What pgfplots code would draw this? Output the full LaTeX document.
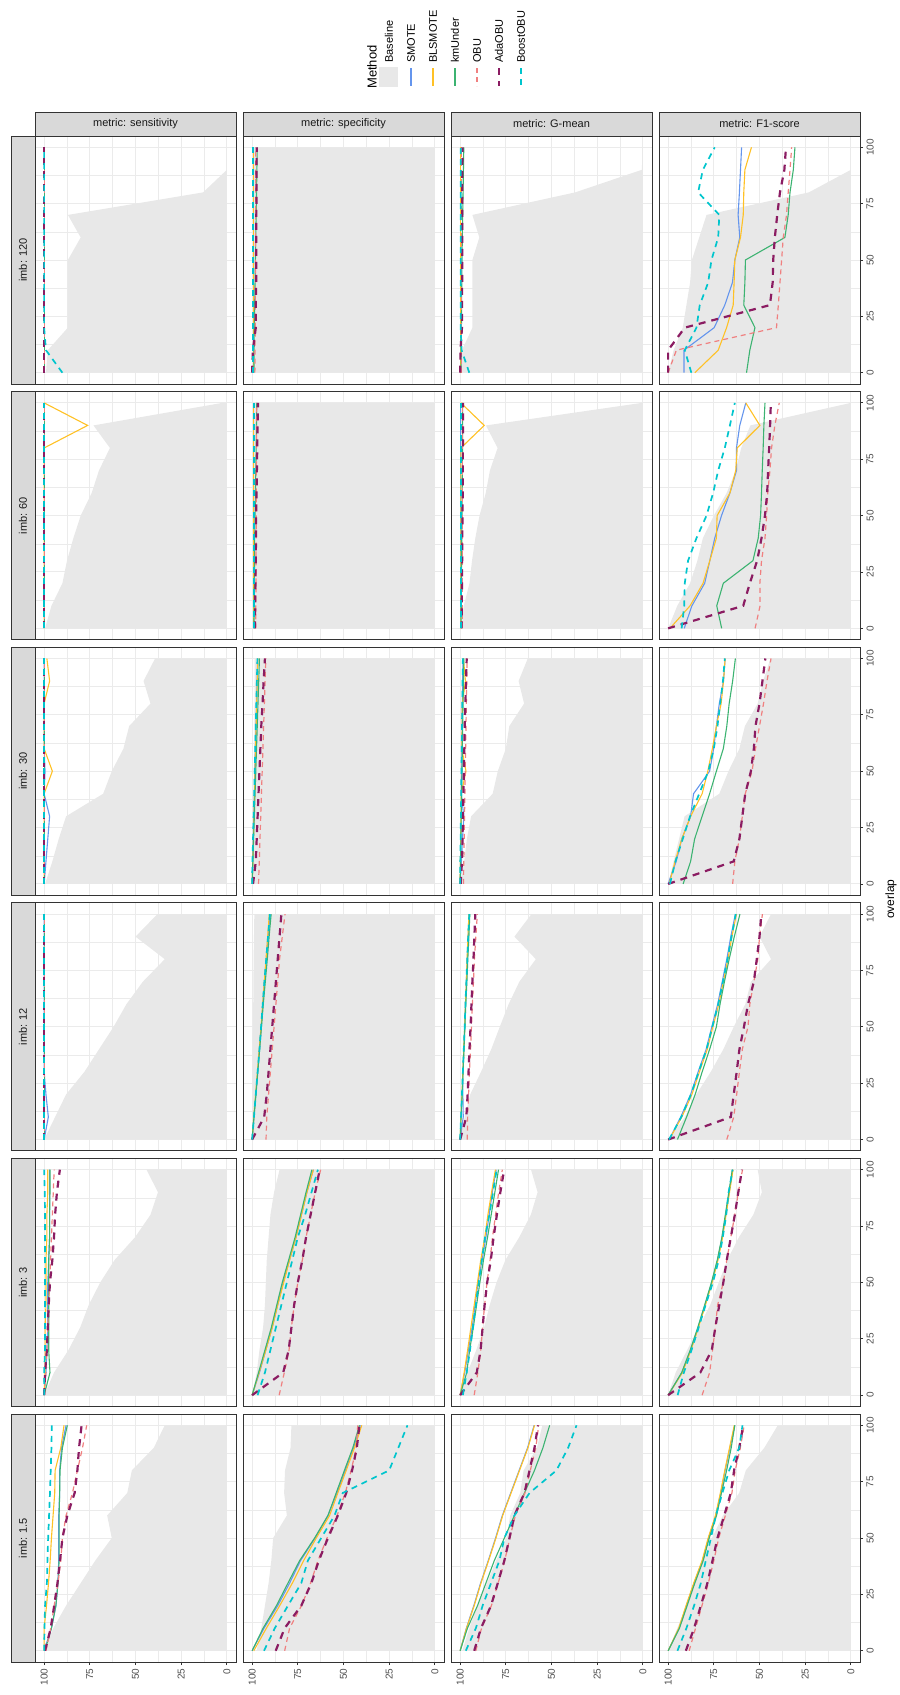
\documentclass[border=0pt]{standalone}
\usepackage{fontspec}
\setmainfont{Liberation Sans}
\usepackage{pgfplots}
\usepackage{pgfplotstable}
\pgfplotsset{compat=1.18}
\usepgfplotslibrary{fillbetween}

\definecolor{cSM}{HTML}{6495ED}
\definecolor{cBL}{HTML}{FFC125}
\definecolor{cKM}{HTML}{3CB371}
\definecolor{cOB}{HTML}{F08080}
\definecolor{cAD}{HTML}{8B1C62}
\definecolor{cBO}{HTML}{00C5CD}
\definecolor{cBase}{HTML}{E8E8E8}
\definecolor{cGrid}{HTML}{EBEBEB}
\definecolor{cStrip}{HTML}{D9D9D9}
\definecolor{cBorder}{HTML}{333333}
\definecolor{cTick}{HTML}{4D4D4D}

\tikzset{
 lSM/.style={cSM, line width=1.1pt},
 lBL/.style={cBL, line width=1.1pt},
 lKM/.style={cKM, line width=1.1pt},
 lOB/.style={cOB, line width=1.2pt, dash pattern=on 5pt off 4pt},
 lAD/.style={cAD, line width=2.2pt, dash pattern=on 7pt off 6pt},
 lBO/.style={cBO, line width=1.7pt, dash pattern=on 6pt off 5pt},
}

\pgfplotsset{
 panel/.style={
  anchor=north west, width=201pt, height=248pt, scale only axis,
  xmin=-5, xmax=105, ymin=-5, ymax=105, x dir=reverse,
  xtick={0,25,50,75,100}, ytick={0,25,50,75,100},
  minor xtick={12.5,37.5,62.5,87.5}, minor ytick={12.5,37.5,62.5,87.5},
  grid=both,
  major grid style={draw=cGrid, line width=1pt},
  minor grid style={draw=cGrid, line width=0.5pt},
  axis line style={draw=cBorder, line width=1pt},
  xticklabels={}, yticklabels={},
  xtick pos=bottom, ytick pos=right,
  tick align=outside, major tick length=3pt, minor tick length=0pt,
  xtick style={draw=none}, ytick style={draw=none},
  no markers,
  /pgf/number format/assume math mode=true,
  tick label style={font=\fontsize{10}{12}\selectfont, text=cTick},
 },
 botrow/.style={xticklabels={0,25,50,75,100}, xtick style={draw=cBorder, line width=0.8pt}, xticklabel style={rotate=90, anchor=east}},
 rightcol/.style={yticklabels={0,25,50,75,100}, ytick style={draw=cBorder, line width=0.8pt}, yticklabel style={rotate=90, anchor=north}},
}

\newcommand{\panel}[4]{%
 \begin{axis}[panel, at={(#2pt,-#3pt)}, #4]
  \addplot[draw=none, name path=zz, forget plot] coordinates {(0,0) (0,100)};
  \addplot[draw=none, name path=bb, forget plot] table[x=b, y=ov]{#1};
  \addplot[fill=cBase, draw=none, forget plot] fill between[of=bb and zz];
  \addplot[lSM] table[x=s, y=ov]{#1};
  \addplot[lBL] table[x=bl, y=ov]{#1};
  \addplot[lKM] table[x=k, y=ov]{#1};
  \addplot[lOB] table[x=o, y=ov]{#1};
  \addplot[lAD] table[x=a, y=ov]{#1};
  \addplot[lBO] table[x=bo, y=ov]{#1};
 \end{axis}}

% ---------------- imb 120 ----------------
\pgfplotstableread{
ov b s bl k o a bo
0 99 100 100 100 100 100 90
10 98 100 100 100 100 100 99
20 87 100 100 100 100 100 100
30 87 100 100 100 100 100 100
40 87 100 100 100 100 100 100
50 87 100 100 100 100 100 100
60 80 100 100 100 100 100 100
70 87 100 100 100 100 100 100
80 13 100 100 100 100 100 100
90 0 100 100 100 100 100 100
100 0 100 100 100 100 100 100
}\tAa
\pgfplotstableread{
ov b s bl k o a bo
0 99.8 99.5 99.2 99 98.5 100 99.5
10 99.8 99.5 99.2 99 98.4 99.6 99.5
20 99.8 99.5 99.2 98.8 98.3 98 99.5
30 99.8 99.5 99.2 98.6 98.3 98 99.5
40 99.8 99.5 99.2 98.4 98.2 97.8 99.5
50 99.8 99.5 99.2 98.2 98.2 97.8 99.5
60 99.8 99.5 99.2 98 98.1 97.7 99.5
70 99.8 99.5 99.2 97.8 98.1 97.7 99.5
80 99.8 99.5 99.2 97.6 98 97.6 99.5
90 99.8 99.5 99.2 97.4 98 97.6 99.5
100 99.8 99.5 99.2 97.2 98 97.5 99.5
}\tAb
\pgfplotstableread{
ov b s bl k o a bo
0 99.9 99.7 99.6 99.5 99.2 100 95
10 99 99.7 99.6 99.4 99.2 99.8 99.2
20 93.3 99.7 99.6 99.3 99.2 99 99.7
30 93.3 99.7 99.6 99.2 99.2 99 99.7
40 93.3 99.7 99.6 99.1 99.2 98.9 99.7
50 93.3 99.7 99.6 99 99.2 98.9 99.7
60 89.5 99.7 99.6 98.8 99.2 98.8 99.7
70 93.3 99.7 99.6 98.6 99.2 98.8 99.7
80 37 99.7 99.6 98.4 99.2 98.8 99.7
90 0.6 99.7 99.6 98.2 99.2 98.8 99.7
100 0 99.7 99.6 98 99.2 98.7 99.7
}\tAc
\pgfplotstableread{
ov b s bl k o a bo
0 100 91.3 85.4 57.1 100 100 87.3
10 97 91.3 72.6 55.3 95.5 100 90.9
20 92 74.8 68 52.5 40.7 90.9 84.5
30 90 69 64.4 58.6 39.7 44.3 82.7
40 88 64.8 63.9 58 38.8 42.8 78.1
50 87 63.5 63.5 57.7 37.9 42.5 76.3
60 83 60.8 60.4 36.1 37 41.6 72.6
70 79 61.7 58.9 34.3 35.2 40.3 72
80 23 61 58.6 33.3 34.3 38.8 83.6
90 0 60.4 58 31.5 33.3 36.4 81
100 0 59.8 54.4 30.6 32.4 35.5 74.5
}\tAd
% ---------------- imb 60 ----------------
\pgfplotstableread{
ov b s bl k o a bo
0 99.5 100 100 100 100 100 100
10 96 100 100 100 100 100 100
20 90 100 100 100 100 100 100
30 87.5 100 100 100 100 100 100
40 84 100 100 100 100 100 100
50 80 100 100 100 100 100 100
60 74 100 100 100 100 100 100
70 70 100 100 100 100 100 100
80 64 100 100 100 100 100 100
90 73 100 76.2 100 100 100 100
100 2.5 100 100 100 100 100 100
}\tBa
\pgfplotstableread{
ov b s bl k o a bo
0 99.5 99.2 99.4 99 98 98.5 98.8
10 99.5 99.2 99.4 98.9 98 98.3 98.8
20 99.5 99.2 99.4 98.8 97.9 98.2 98.8
30 99.5 99.2 99.4 98.7 97.9 98 98.8
40 99.5 99.2 99.4 98.6 97.8 97.9 98.8
50 99.5 99.2 99.4 98.4 97.8 97.8 98.8
60 99.5 99.2 99.4 98.2 97.7 97.6 98.8
70 99.5 99.2 99.4 98 97.7 97.4 98.8
80 99.5 99.2 99.4 97.8 97.6 97.2 98.8
90 99.5 99.2 99.4 97.6 97.6 97 98.8
100 99.5 99.2 99.4 97.5 97.5 96.8 98.8
}\tBb
\pgfplotstableread{
ov b s bl k o a bo
0 99.7 99.6 99.6 99.5 98.9 99.2 99.4
10 98 99.6 99.6 99.4 98.9 99.1 99.4
20 94.9 99.6 99.6 99.3 98.9 99 99.4
30 93.5 99.6 99.6 99.2 98.9 98.9 99.4
40 91.7 99.6 99.6 99.1 98.9 98.8 99.4
50 89.4 99.6 99.6 99 98.9 98.7 99.4
60 86 99.6 99.6 98.9 98.9 98.6 99.4
70 83.7 99.6 99.6 98.8 98.9 98.5 99.4
80 79.5 99.6 99.6 98.7 98.9 98.5 99.4
90 85.9 99.6 86.8 98.7 98.9 98.4 99.4
100 0.5 99.6 99.6 98.7 98.9 98.4 99.4
}\tBc
\pgfplotstableread{
ov b s bl k o a bo
0 100 91.2 99 70.7 52.4 100 92.6
10 95 87 88 73.4 49.7 58.9 91.2
20 88 80 80.9 69.8 49.8 55.3 90.9
30 84 77.2 77.2 53.6 48.9 51.3 89.1
40 81 74.5 73.6 50.7 47 48.9 84.5
50 75 70.8 73.2 49.4 46.1 47 79
60 68 66.2 66.2 48.9 45.5 45.8 75.4
70 63 62.6 63 48.5 44.3 45.3 72.6
80 60 62.6 62.2 48 43.4 44.7 69
90 55 60.8 49.8 47.6 41.6 44.2 66.2
100 0 57.5 57.5 47 39.2 43.8 63.5
}\tBd
% ---------------- imb 30 ----------------
\pgfplotstableread{
ov b s bl k o a bo
0 99.5 100 100 100 100 100 100
10 95.5 99 100 100 100 100 100
20 92 98 100 100 100 100 100
30 88 97 100 100 100 100 100
40 67.7 100 100 100 100 100 100
50 63 99.5 95.5 100 100 100 100
60 56.6 100 100 100 100 100 100
70 53.5 100 100 100 100 100 100
80 41.8 100 100 100 100 100 100
90 45.6 100 97 100 100 100 100
100 39.3 100 98.5 100 100 100 100
}\tCa
\pgfplotstableread{
ov b s bl k o a bo
0 99.5 100 100 100 96.5 99.5 100
10 99.4 99.7 99.6 99.6 96.1 98 99.8
20 99.3 99.4 99.3 99.2 95.7 97.5 99.5
30 99.2 99.1 99 98.8 95.3 97 99.2
40 99.1 98.8 98.7 98.4 94.9 96.5 98.9
50 99 98.5 98.4 98 94.5 96 98.6
60 98.9 98.2 98.1 97.6 94.1 95.5 98.3
70 98.8 97.9 97.8 97.2 93.7 95 98
80 98.7 97.6 97.5 96.8 93.3 94.3 97.7
90 98.7 97.3 97.2 96.4 92.9 93.7 97.4
100 98.7 97 96.9 96 92.5 93 97.1
}\tCb
\pgfplotstableread{
ov b s bl k o a bo
0 99.7 100 100 100 98.2 99.7 100
10 97.8 99.3 99.8 99.8 98 99 99.9
20 96.3 98.7 99.7 99.6 97.8 98.7 99.7
30 94 98 99.5 99.4 97.6 98.5 99.6
40 82.2 99.4 99.4 99.2 97.4 98.2 99.4
50 79.4 99 96.8 99 97.2 98 99.3
60 75 99.1 99.1 98.8 97 97.7 99.1
70 73.1 98.9 98.9 98.6 96.8 97.5 99
80 65 98.8 98.8 98.4 96.6 97.1 98.8
90 68 98.6 97.1 98.2 96.4 96.8 98.7
100 63 98.5 98.2 98 96.2 96.4 98.5
}\tCc
\pgfplotstableread{
ov b s bl k o a bo
0 100 100 99.4 91.8 64.7 100 99
10 97 95.6 96.2 87.7 63.5 64.1 96
20 94 92.5 92.5 85.5 61 61 92
30 91 87.7 87.7 81.4 59.4 59.4 88
40 72 86.1 81.4 77.3 57.8 57.8 83
50 67 77.3 78.3 73.6 54.1 54.7 78
60 61 75.1 75.8 69.8 52.2 53.1 75
70 58 73.6 73.6 67.9 50 52.2 73
80 51 72 71 66.6 47.8 50 71.5
90 48 69.7 69.7 64.7 45.9 48.4 70
100 44 68.8 68.8 63.2 43.7 46.8 69
}\tCd
% ---------------- imb 12 ----------------
\pgfplotstableread{
ov b s bl k o a bo
0 100 100 100 100 100 100 100
10 94 97.7 100 100 100 100 100
20 88 99 100 100 100 100 100
30 78 100 100 100 100 100 100
40 70 100 100 100 100 100 100
50 62 100 100 100 100 100 100
60 55 100 100 100 100 100 100
70 46 100 100 100 100 100 100
80 34 100 100 100 100 100 100
90 50 100 100 100 100 100 100
100 38 100 100 100 100 100 100
}\tDa
\pgfplotstableread{
ov b s bl k o a bo
0 100 100 100 100 92.4 100 100
10 99.9 99 99.1 99 92 93.4 99
20 99.8 98 98.1 97.9 91 92 98
30 99.7 97 97.1 96.9 90 91 97
40 99.6 96 96.1 95.9 89 90 96
50 99.5 95 95.1 94.9 88 89 95.1
60 99.4 94.2 94.2 93.9 87 88 94.2
70 99.3 93.3 93.3 92.8 86 87 93.3
80 99.2 92.3 92.4 91.7 85 86 92.3
90 99 91.3 91.5 90.7 83.5 85 91.3
100 98.8 90.2 90.6 89.6 82 84 90.3
}\tDb
\pgfplotstableread{
ov b s bl k o a bo
0 100 100 100 100 96.1 100 100
10 97.5 98.3 99.5 99.5 95.9 96.6 99.5
20 94.5 98.5 99 98.9 95.4 95.9 99
30 88.6 98.5 98.5 98.4 94.9 95.4 98.5
40 83 98 98 97.9 94.3 94.9 98
50 78.3 97.5 97.5 97.4 93.8 94.3 97.5
60 73.5 97.1 97.1 96.9 93.3 93.8 97.1
70 67.6 96.6 96.6 96.3 92.7 93.3 96.6
80 58.6 96.1 96.2 95.8 92.2 92.7 96.1
90 70.3 95.6 95.7 95.2 91.4 92.2 95.6
100 61 95 95.2 94.7 90.6 91.7 95
}\tDc
\pgfplotstableread{
ov b s bl k o a bo
0 100 99.4 99.4 94.9 67.9 100 99.5
10 90.8 93.1 92.5 89.9 64.1 65.7 92.8
20 84.6 87.7 87 85.2 62.5 64.1 87.5
30 76.7 83.6 82.9 81.4 61 62.5 83.3
40 69.8 79.2 78.6 77.3 59.4 61 79
50 64.1 76.1 75.5 73.6 56.3 58.5 75.8
60 57.8 72.9 72.3 71.6 55.3 56.3 72.6
70 54.7 70.4 69.8 69.2 53.1 53.1 70
80 43.7 67.9 67.3 66.6 50.9 51.5 67.5
90 50 65.7 65.1 63.8 50 50 65.3
100 43.7 63.2 62.6 60.7 48.4 49 63
}\tDd
% ---------------- imb 3 ----------------
\pgfplotstableread{
ov b s bl k o a bo
0 100 100 100 100 100 100 100
10 94.6 99 99.5 96.8 99 99.5 100
20 86.7 98.5 99.5 97.5 98.5 98.5 99.5
30 80.3 98 99.5 97.5 98 98 99.5
40 75.6 98 99 97.5 97.5 97.5 99.5
50 69.3 98 99 97.5 97 96.8 99.5
60 61.4 97.5 99 97.5 96.5 95.5 99.5
70 50.3 97 98.5 97 96 94.6 99.5
80 41.8 97 98.5 97 95.5 94 99.5
90 37.7 97 98 96.8 95 93 99.7
100 44 97 98 96.8 94.5 91.4 100
}\tEa
\pgfplotstableread{
ov b s bl k o a bo
0 100 100 100 100 85.2 100 97
10 97.5 96 96.2 96.5 82.4 83 93
20 96 92.5 92.5 93 79.8 80 90
30 94 89 89 89.5 78.5 78.5 87
40 93 86 86 86.5 77 77 84
50 92.5 83 82.7 83.5 75 75 81
60 92 79.5 79.5 80 72.5 72.5 78
70 91 76 76 76.5 70.5 70.5 75
80 90 73 73 73.5 68 68 71
90 88 70 70 70.5 65.5 65.5 67.5
100 85 66.5 66.5 67.3 62.5 63 64
}\tEb
\pgfplotstableread{
ov b s bl k o a bo
0 100 100 100 100 92.3 100 98.5
10 96 97.5 97.8 96.4 90.3 90.9 96.4
20 91.2 95.5 95.9 94.8 88.7 88.8 94.6
30 86.9 93.4 94.1 92.8 87.7 87.7 93
40 83.8 91.8 92.3 91 86.6 86.6 91.4
50 80.1 90.2 90.5 89.2 85.3 85.2 89.8
60 75.2 88 88.7 87.2 83.6 83.2 88.1
70 67.7 85.9 86.5 85 82.3 81.7 86.4
80 61.3 84.1 84.8 83 80.6 79.9 84
90 57.6 82.4 82.8 81 78.9 78 82
100 61.2 80.3 80.7 79 76.9 75.9 80
}\tEc
\pgfplotstableread{
ov b s bl k o a bo
0 100 100 100 100 81.4 100 94.8
10 95.9 92.4 92.2 92.6 77.3 82.4 91.4
20 89.6 87.7 87.5 87.9 75.7 76.1 87.2
30 83.3 83.6 83.4 83.8 74.2 74.2 83.3
40 77 79.8 79.6 80 72.9 72 79.5
50 72.3 76.1 75.9 76.3 69.8 69.8 75.5
60 67.6 72.9 72.7 73.1 67.9 67.9 72.3
70 61.3 70.4 70.2 70.6 65.7 65.7 70.1
80 53.4 68.5 68.3 68.7 63.5 63.5 68.2
90 48.7 66.6 66.4 66.8 61.6 61.6 66.9
100 51 64.7 64.5 64.9 59.3 59.6 64.7
}\tEd
% ---------------- imb 1.5 ----------------
\pgfplotstableread{
ov b s bl k o a bo
0 100 100 100 99.6 99 99.5 100
10 95 96 100 96 96.4 96.4 99.8
20 88 93.5 98.7 93.6 94.5 94.5 99.5
30 80 92.5 97.6 92.4 92.4 92.7 98.5
40 72 92 96.7 91.8 90.9 91.3 98.2
50 63 92 96 91.8 90 90 97.8
60 65.5 92 95.1 91.8 88 87.3 97.3
70 54.5 91.5 94.2 91.5 84.5 83.3 96.8
80 52 91.5 94 91.3 81.8 81.8 96.4
90 40 90.5 90.9 90 79 80.9 96
100 34 88 89.1 87.3 76.7 79.5 95.8
}\tFa
\pgfplotstableread{
ov b s bl k o a bo
0 97.6 100 99.1 100 82.2 87.1 93.5
10 95 93.5 92.2 94 79.5 82.2 87.6
20 93 86 84.9 86.7 73 73.1 80.4
30 91 79.5 78 80.4 68 67.6 73.1
40 89.5 73.5 71.8 74 64 63.5 69.5
50 88.5 65.5 64.9 65.8 59 58.5 62.2
60 81 58.5 57.6 58.5 53.5 53.1 54.9
70 82.5 53.5 53.1 54 49 48.5 50.4
80 82 49 48.5 49.5 45.8 45.3 25
90 79 44.5 44 44.9 43 42.7 20
100 78.5 40.8 40 41.3 42.2 41.3 15
}\tFb
\pgfplotstableread{
ov b s bl k o a bo
0 98.8 100 100 100 91.4 92.3 96.9
10 95 96.6 96.5 96 88.3 88.6 91.4
20 90.5 92.5 92.3 90.5 82.9 83.1 87.7
30 85.3 88.8 88.6 85.9 79.2 79.4 83.1
40 80.3 84.6 84.4 81.3 75.6 75.8 78.5
50 74.7 80.6 80.4 75.8 72.8 73 75.8
60 72.6 76.9 76.7 70.3 69.8 70.3 70.3
70 67.1 72.3 72.1 64.8 64.5 64.8 62
80 65.3 67.7 67.5 59.3 61.6 62 47.3
90 58 63.1 62.9 54.7 58.6 59.3 40.9
100 55 59.5 59.3 51 57 57.4 36.3
}\tFc
\pgfplotstableread{
ov b s bl k o a bo
0 100 100 100 100 88.5 90.3 94.9
10 95 94 94.2 93.8 85 85.8 90
20 90 90 90.2 89.6 81.5 82.1 85.8
30 86 85.8 86 85.4 78 78.5 82.1
40 81 81.2 81.4 80.8 75 75.7 79.4
50 76 77.9 78.1 77.5 72.3 73 76.6
60 70 73.9 74.1 73.5 68.7 69.3 73.9
70 61.1 71.2 71.4 70.8 65.1 65.7 70.3
80 57.5 68.8 69 68 63.3 63.9 66.6
90 47.4 66.2 66.4 65.5 60.5 61.1 61.1
100 40 63.5 63.8 63.5 58.4 58.9 59.3
}\tFd

\begin{document}
\begin{tikzpicture}
\path (0pt,0pt) rectangle (899pt,-1695pt);

% panels: columns at 35, 243, 451, 659; rows at 136, 391.6, 647.2, 902.8, 1158.4, 1414
\panel{\tAa}{35}{136}{}
\panel{\tAb}{243}{136}{}
\panel{\tAc}{451}{136}{}
\panel{\tAd}{659}{136}{rightcol}
\panel{\tBa}{35}{391.6}{}
\panel{\tBb}{243}{391.6}{}
\panel{\tBc}{451}{391.6}{}
\panel{\tBd}{659}{391.6}{rightcol}
\panel{\tCa}{35}{647.2}{}
\panel{\tCb}{243}{647.2}{}
\panel{\tCc}{451}{647.2}{}
\panel{\tCd}{659}{647.2}{rightcol}
\panel{\tDa}{35}{902.8}{}
\panel{\tDb}{243}{902.8}{}
\panel{\tDc}{451}{902.8}{}
\panel{\tDd}{659}{902.8}{rightcol}
\panel{\tEa}{35}{1158.4}{}
\panel{\tEb}{243}{1158.4}{}
\panel{\tEc}{451}{1158.4}{}
\panel{\tEd}{659}{1158.4}{rightcol}
\panel{\tFa}{35}{1414}{botrow}
\panel{\tFb}{243}{1414}{botrow}
\panel{\tFc}{451}{1414}{botrow}
\panel{\tFd}{659}{1414}{botrow,rightcol}

% metric strips
\tikzset{strip/.style={fill=cStrip, draw=cBorder, line width=1pt}, stext/.style={font=\fontsize{11}{13}\selectfont, text=black!90}}
\draw[strip] (35pt,-112pt) rectangle (236pt,-136pt);
\node[stext] at (135.5pt,-124pt) {metric: sensitivity};
\draw[strip] (243pt,-112pt) rectangle (444pt,-136pt);
\node[stext] at (343.5pt,-124pt) {metric: specificity};
\draw[strip] (451pt,-112pt) rectangle (652pt,-136pt);
\node[stext] at (551.5pt,-124pt) {metric: G-mean};
\draw[strip] (659pt,-112pt) rectangle (860pt,-136pt);
\node[stext] at (759.5pt,-124pt) {metric: F1-score};

% imb strips
\draw[strip] (11pt,-136pt) rectangle (35pt,-384pt);
\node[stext, rotate=90] at (23pt,-260pt) {imb: 120};
\draw[strip] (11pt,-391.6pt) rectangle (35pt,-639.6pt);
\node[stext, rotate=90] at (23pt,-515.6pt) {imb: 60};
\draw[strip] (11pt,-647.2pt) rectangle (35pt,-895.2pt);
\node[stext, rotate=90] at (23pt,-771.2pt) {imb: 30};
\draw[strip] (11pt,-902.8pt) rectangle (35pt,-1150.8pt);
\node[stext, rotate=90] at (23pt,-1026.8pt) {imb: 12};
\draw[strip] (11pt,-1158.4pt) rectangle (35pt,-1406.4pt);
\node[stext, rotate=90] at (23pt,-1282.4pt) {imb: 3};
\draw[strip] (11pt,-1414pt) rectangle (35pt,-1662pt);
\node[stext, rotate=90] at (23pt,-1538pt) {imb: 1.5};

% axis title
\node[rotate=90, font=\fontsize{12}{14}\selectfont] at (891pt,-899pt) {overlap};

% legend
\node[rotate=90, anchor=west, inner sep=0pt, font=\fontsize{13}{15}\selectfont] at (372pt,-89pt) {Method};
\fill[cBase] (379pt,-67pt) rectangle (398pt,-87pt);
\draw[lSM] (411pt,-68pt) -- (411pt,-86pt);
\draw[lBL] (433pt,-68pt) -- (433pt,-86pt);
\draw[lKM] (455pt,-68pt) -- (455pt,-86pt);
\draw[lOB] (477pt,-68pt) -- (477pt,-86pt);
\draw[lAD] (499pt,-68pt) -- (499pt,-86pt);
\draw[lBO] (521pt,-68pt) -- (521pt,-86pt);
\tikzset{ltext/.style={rotate=90, anchor=west, inner sep=0pt, font=\fontsize{11}{13}\selectfont}}
\node[ltext] at (389pt,-63pt) {Baseline};
\node[ltext] at (411pt,-63pt) {SMOTE};
\node[ltext] at (433pt,-63pt) {BLSMOTE};
\node[ltext] at (455pt,-63pt) {kmUnder};
\node[ltext] at (477pt,-63pt) {OBU};
\node[ltext] at (499pt,-63pt) {AdaOBU};
\node[ltext] at (521pt,-63pt) {BoostOBU};
\end{tikzpicture}
\end{document}
